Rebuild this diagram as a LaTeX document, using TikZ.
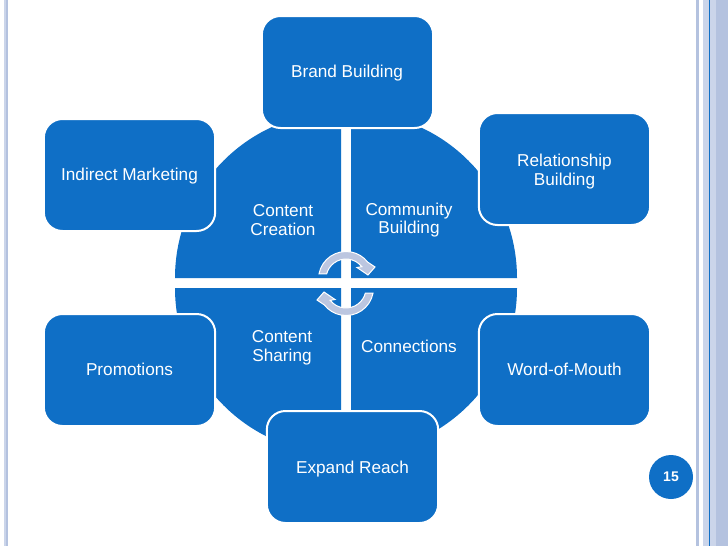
\documentclass[tikz,border=0pt]{standalone}
\usepackage{fontspec}
\setmainfont{Liberation Sans}
\definecolor{mainblue}{HTML}{0F6FC6}
\definecolor{stripeA}{HTML}{B4C2DF}
\definecolor{stripeB}{HTML}{CBD5EA}
\definecolor{arrowfill}{HTML}{BCC6E0}
\tikzset{
 x=0.75pt,y=-0.75pt,
 outerbox/.style={draw=white,line width=1.5pt,fill=mainblue,rounded corners=14pt,minimum width=128.5pt,minimum height=84pt,inner sep=0pt},
 boxtext/.style={text=white,align=center,inner sep=0pt,font=\fontsize{12.9}{14.2}\selectfont},
 quad/.style={fill=mainblue,draw=none},
 innerlabel/.style={text=white,align=center,font=\fontsize{12.9}{14}\selectfont,inner sep=0pt},
 cyc/.style={draw=white,line width=0.75pt,fill=arrowfill,line join=miter},
}
\newcommand{\cycleshape}{%
  \path[cyc] (190.7:27.5) arc[start angle=190.7,end angle=322,radius=27.5]
    -- (29,-12) -- (22,-4) -- (11,-11.5) -- (322:20)
    arc[start angle=322,end angle=195,radius=20] -- cycle;}
\begin{document}
\begin{tikzpicture}
\useasboundingbox (0,0) rectangle (728,546);
\fill[white] (0,0) rectangle (728,546);
% page stripes
\fill[stripeB] (4.3,0) rectangle (8.3,546);
\fill[stripeA] (5.7,0) rectangle (8.3,546);
\fill[stripeA] (696,0) rectangle (699,546);
\fill[stripeB] (703,0) rectangle (716,546);
\fill[mainblue] (708.5,0) rectangle (710,546);
\fill[stripeA] (716,0) rectangle (728,546);
% quadrants
\fill[quad] (341,278) -- (175,278) arc[start angle=180,end angle=270,radius=166] -- cycle;
\fill[quad] (351,278) -- (351,112) arc[start angle=270,end angle=360,radius=166] -- cycle;
\fill[quad] (341,288) -- (341,454) arc[start angle=90,end angle=180,radius=166] -- cycle;
\fill[quad] (351,288) -- (517,288) arc[start angle=0,end angle=90,radius=166] -- cycle;
% quadrant labels
\node[innerlabel] (cc) at (283,220) {Content\\Creation};
\node[innerlabel] (cb) at (409,220) {Community\\Building};
\node[innerlabel] (cs) at (282,348) {Content\\Sharing};
\node[innerlabel] (cn) at (409,346) {Connections};
% cycle arrows
\begin{scope}[shift={(346,279)}]\cycleshape\end{scope}
\begin{scope}[shift={(346,288)},rotate=180]\cycleshape\end{scope}
% outer boxes
\node[outerbox] (bb) at (347.5,72) {};
\node[outerbox] (im) at (129.5,175) {};
\node[outerbox] (rb) at (564.5,169) {};
\node[outerbox] (pr) at (129.5,370) {};
\node[outerbox] (wm) at (564.5,370) {};
\node[outerbox] (er) at (352.5,467) {};
\node[boxtext] (bbt) at (347,73) {Brand Building};
\node[boxtext] (imt) at (129.5,176) {Indirect Marketing};
\node[boxtext] (rbt) at (564.5,171.5) {Relationship\\Building};
\node[boxtext] (prt) at (129.5,369) {Promotions};
\node[boxtext] (wmt) at (564.5,369) {Word-of-Mouth};
\node[boxtext] (ert) at (352.5,469) {Expand Reach};
% page number
\node[circle,fill=mainblue,text=white,minimum size=33pt,inner sep=0pt,font=\bfseries\fontsize{10.5}{12}\selectfont] (pg) at (671,477) {15};
\end{tikzpicture}
\end{document}
